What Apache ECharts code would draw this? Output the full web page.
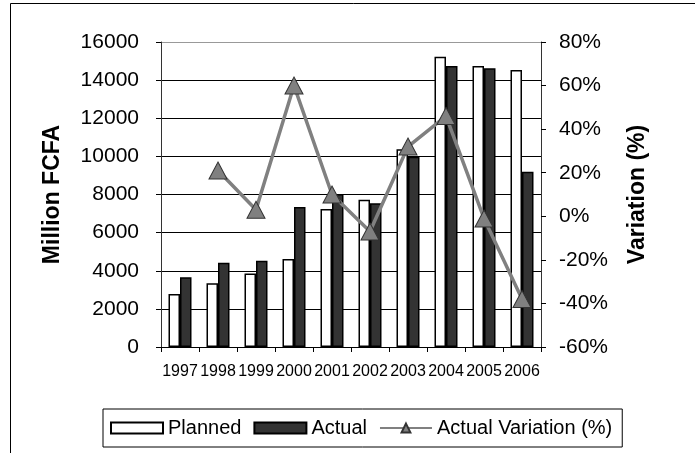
<!DOCTYPE html>
<html>
<head>
<meta charset="utf-8">
<script src="https://cdn.jsdelivr.net/npm/echarts@6/dist/echarts.min.js"></script>
<style>
    html, body { margin: 0; padding: 0; background: #fff; }
    #chart { width: 695px; height: 453px; }
</style>
</head>
<body>
<div id="chart"></div>
<script>
    // Data
    const years = ["1997", "1998", "1999", "2000", "2001", "2002", "2003", "2004", "2005", "2006"];
    const planned = [2780, 3340, 3850, 4620, 7240, 7730, 10370, 15230, 14740, 14530];
    const actual = [3660, 4420, 4530, 7340, 8030, 7540, 9980, 14740, 14620, 9200];
    const variation = [null, 21, 3, 60, 10, -7, 32, 46, -1, -38];

    const FONT = "Liberation Sans, Arial, Helvetica, sans-serif";

    // gridlines black, the top one is the grey plot border
    const gridColors = ["#000", "#000", "#000", "#000", "#000", "#000", "#000", "#000", "#999"];

    const chart = echarts.init(document.getElementById("chart"));

    const option = {
        animation: false,
        backgroundColor: "#fff",
        textStyle: { fontFamily: FONT, color: "#000" },
        graphic: [{
            type: "rect",
            shape: { x: 10.5, y: 3.5, width: 700, height: 500 },
            style: { fill: null, stroke: "#000", lineWidth: 1 },
            silent: true,
            z: -1
        }],
        grid: { left: 161, right: 154, top: 42, bottom: 106, containLabel: false },
        legend: {
            left: 103,
            top: 409,
            padding: [9, 10, 9, 7],
            borderColor: "#000",
            borderWidth: 1,
            itemGap: 12,
            itemWidth: 52,
            itemHeight: 11,
            textStyle: { fontFamily: FONT, fontSize: 20, color: "#000" },
            data: [
                { name: "Planned", icon: "rect" },
                { name: "Actual", icon: "rect" },
                { name: "Actual Variation (%)", itemStyle: { color: "#808080" } }
            ]
        },
        xAxis: {
            type: "category",
            data: years,
            boundaryGap: true,
            axisLine: { lineStyle: { color: "#000", width: 1 } },
            axisTick: { show: true, alignWithLabel: false, length: 5, lineStyle: { color: "#000" } },
            axisLabel: { fontSize: 16, color: "#000", margin: 17, interval: 0 },
            splitLine: { show: false }
        },
        yAxis: [{
            type: "value",
            min: 0,
            max: 16000,
            interval: 2000,
            name: "Million FCFA",
            nameLocation: "middle",
            nameRotate: 90,
            nameGap: 97,
            nameTextStyle: { fontSize: 23, fontWeight: "bold", color: "#000" },
            axisLine: { show: true, lineStyle: { color: "#333", width: 1 } },
            axisTick: { show: true, length: 5, lineStyle: { color: "#000" } },
            axisLabel: { fontSize: 21, color: "#000", margin: 22, formatter: v => String(v) },
            splitLine: { show: true, lineStyle: { color: gridColors, width: 1 } }
        }, {
            type: "value",
            min: -60,
            max: 80,
            interval: 20,
            position: "right",
            name: "Variation (%)",
            nameLocation: "middle",
            nameRotate: 90,
            nameGap: 85,
            nameTextStyle: { fontSize: 23, fontWeight: "bold", color: "#000" },
            axisLine: { show: true, lineStyle: { color: "#333", width: 1 } },
            axisTick: { show: true, length: 5, lineStyle: { color: "#000" } },
            axisLabel: { fontSize: 21, color: "#000", margin: 18, formatter: "{value}%" },
            splitLine: { show: false }
        }],
        series: [{
            name: "Planned",
            type: "bar",
            data: planned,
            barWidth: 11.5,
            barGap: "0%",
            itemStyle: { color: "#fff", borderColor: "#000", borderWidth: 1.5 }
        }, {
            name: "Actual",
            type: "bar",
            data: actual,
            barWidth: 11.5,
            barGap: "0%",
            itemStyle: { color: "#333", borderColor: "#000", borderWidth: 1.5 }
        }, {
            name: "Actual Variation (%)",
            type: "line",
            yAxisIndex: 1,
            data: variation,
            symbol: "triangle",
            symbolSize: [18, 17],
            lineStyle: { color: "#808080", width: 3.5 },
            itemStyle: { color: "#808080", borderColor: "#333", borderWidth: 1 },
            z: 5
        }]
    };

    chart.setOption(option);
</script>
</body>
</html>
